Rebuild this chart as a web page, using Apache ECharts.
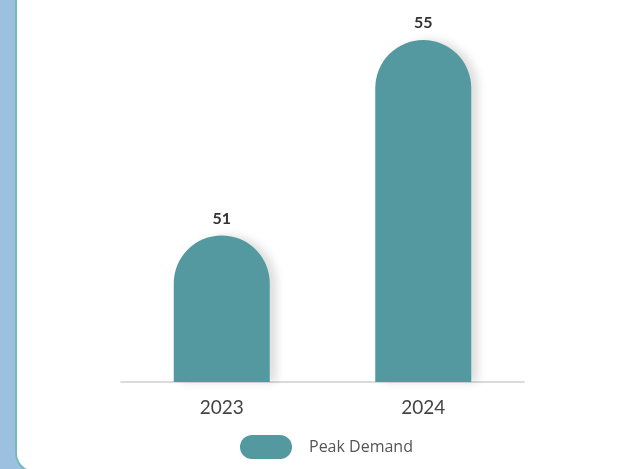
<!DOCTYPE html>
<html>
<head>
<meta charset="utf-8">
<script src="https://cdn.jsdelivr.net/npm/echarts@6/dist/echarts.min.js"></script>
<style>
  html, body { margin: 0; padding: 0; width: 631px; height: 469px; overflow: hidden; background: #9cc0e0; }
  .card {
    position: absolute; left: 15px; top: -40px; width: 700px; height: 513px;
    background: #ffffff; border-left: 2px solid #76bcb6; border-bottom: 2px solid #76bcb6;
    border-bottom-left-radius: 20px; box-sizing: border-box;
  }
  #chart { position: absolute; left: 0; top: 0; width: 631px; height: 469px; }
</style>
</head>
<body>
<div class="card"></div>
<div id="chart"></div>
<script>
// Peak demand by year
const years = ['2023', '2024'];
const peakDemand = [51, 55];
const seriesName = 'Peak Demand';

const chart = echarts.init(document.getElementById('chart'), null, { renderer: 'canvas' });
chart.setOption({
  backgroundColor: 'transparent',
  animation: false,
  grid: { left: 121, right: 107, top: 40, bottom: 87 },
  legend: {
    data: [seriesName],
    left: 235,
    top: 430,
    itemWidth: 52,
    itemHeight: 25,
    icon: 'path://M12,0 H40 A12,12 0 0 1 40,24 H12 A12,12 0 0 1 12,0 Z',
    textStyle: { color: '#555', fontSize: 16, fontFamily: 'Open Sans', padding: [0, 0, 0, 12] }
  },
  xAxis: {
    type: 'category',
    data: years,
    axisLine: { lineStyle: { color: '#cfcfcf', width: 1.5 } },
    axisTick: { show: false },
    axisLabel: { color: '#444', fontSize: 19, fontFamily: 'Lato', margin: 16 }
  },
  yAxis: {
    type: 'value',
    min: 48,
    max: 55,
    show: false,
    splitLine: { show: false }
  },
  series: [{
    name: seriesName,
    type: 'bar',
    data: peakDemand,
    barWidth: 96,
    itemStyle: {
      color: '#5599a0',
      borderRadius: [48, 48, 0, 0],
      shadowColor: 'rgba(0,0,0,0.13)',
      shadowBlur: 8,
      shadowOffsetX: 7,
      shadowOffsetY: 0
    },
    label: {
      show: true,
      position: 'top',
      distance: 9,
      color: '#333',
      fontSize: 16,
      fontWeight: 'bold',
      fontFamily: 'Lato'
    }
  }]
});
</script>
</body>
</html>
